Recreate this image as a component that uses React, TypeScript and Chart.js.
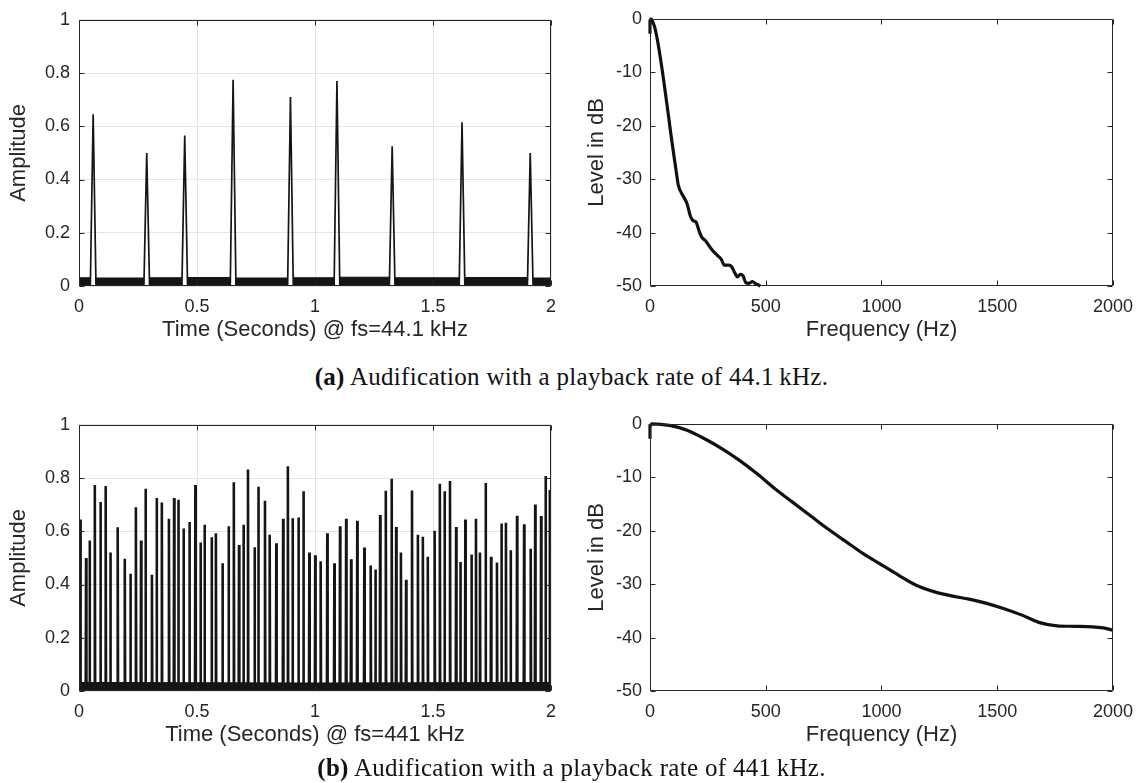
import React, { useEffect, useRef } from 'react';
import { Chart, registerables } from 'chart.js';

Chart.register(...registerables);

// ---------- data ----------
const timeTicks = [0, 0.5, 1, 1.5, 2];
const ampTicks = [0, 0.2, 0.4, 0.6, 0.8, 1];
const freqTicks = [0, 500, 1000, 1500, 2000];
const levelTicks = [-50, -40, -30, -20, -10, 0];

// (a) 44.1 kHz: pulse times (s) and heights
const peakTimesA = [0.06, 0.287, 0.448, 0.653, 0.896, 1.093, 1.327, 1.623, 1.912];
const peakHeightsA = [0.645, 0.5, 0.565, 0.775, 0.71, 0.77, 0.525, 0.615, 0.5];
// noise floor level in each gap between pulses (10 gaps)
const noiseLevelsA = [0.031, 0.03, 0.031, 0.032, 0.03, 0.031, 0.033, 0.031, 0.032, 0.03];

// (b) 441 kHz: pulse times (s) and heights
const peakTimesB = [
  0.006, 0.03, 0.045, 0.067, 0.091, 0.113, 0.133, 0.164, 0.194, 0.218,
  0.241, 0.263, 0.282, 0.309, 0.329, 0.351, 0.381, 0.403, 0.421, 0.443,
  0.468, 0.493, 0.515, 0.532, 0.562, 0.58, 0.608, 0.634, 0.656, 0.678,
  0.697, 0.716, 0.744, 0.76, 0.788, 0.808, 0.836, 0.865, 0.885, 0.905,
  0.93, 0.951, 0.976, 1.001, 1.024, 1.052, 1.082, 1.106, 1.132, 1.153,
  1.179, 1.209, 1.236, 1.256, 1.276, 1.3, 1.325, 1.344, 1.364, 1.386,
  1.411, 1.436, 1.457, 1.478, 1.507, 1.529, 1.549, 1.572, 1.598, 1.616,
  1.637, 1.663, 1.682, 1.699, 1.723, 1.746, 1.771, 1.79, 1.809, 1.829,
  1.856, 1.886, 1.914, 1.933, 1.958, 1.977, 1.995,
];
const peakHeightsB = [
  0.644, 0.5, 0.565, 0.774, 0.71, 0.77, 0.52, 0.615, 0.497, 0.44,
  0.69, 0.565, 0.76, 0.437, 0.725, 0.708, 0.647, 0.725, 0.718, 0.61,
  0.635, 0.774, 0.558, 0.625, 0.578, 0.593, 0.48, 0.619, 0.784, 0.548,
  0.625, 0.832, 0.54, 0.767, 0.715, 0.587, 0.555, 0.647, 0.844, 0.649,
  0.652, 0.75, 0.52, 0.51, 0.487, 0.593, 0.48, 0.619, 0.647, 0.495,
  0.64, 0.539, 0.471, 0.456, 0.661, 0.752, 0.797, 0.616, 0.52, 0.418,
  0.753, 0.587, 0.579, 0.504, 0.602, 0.779, 0.75, 0.789, 0.616, 0.485,
  0.644, 0.513, 0.647, 0.52, 0.781, 0.504, 0.483, 0.629, 0.632, 0.529,
  0.658, 0.626, 0.534, 0.701, 0.657, 0.808, 0.755,
];
const noiseTimesB = [0, 0.5, 1, 1.5, 2];
const noiseLevelsB = [0.032, 0.031, 0.03, 0.031, 0.032];

// spectra
const freqA = [0, 0, 4, 12, 20, 30, 40, 50, 60, 70, 80, 90, 100, 110, 118, 122, 145, 160, 175, 187, 198, 213, 224, 239, 254, 271, 292, 308, 321, 340, 353, 367, 378, 390, 402, 414, 428, 442, 458, 477];
const levelA = [-2.8, -0.5, 0, -0.6, -1.5, -3.5, -6, -8.8, -11.8, -15, -18.2, -21.5, -24.6, -27.6, -30, -31.1, -33.3, -34.6, -37, -37.8, -38, -39.8, -40.9, -41.5, -42.4, -43.4, -44.3, -45, -46.1, -46.1, -46.4, -47.6, -48.3, -47.8, -48.1, -49.4, -49.5, -49.2, -49.6, -50];

const freqB = [0, 0, 8, 84, 160, 236, 312, 388, 464, 541, 617, 693, 769, 845, 921, 997, 1073, 1150, 1226, 1302, 1378, 1454, 1530, 1607, 1683, 1759, 1835, 1911, 1957, 2000];
const levelB = [-2.8, -0.4, 0, -0.3, -1.2, -2.8, -4.7, -6.9, -9.4, -12.2, -14.7, -17.2, -19.7, -22, -24.3, -26.3, -28.3, -30.2, -31.4, -32.2, -32.8, -33.6, -34.6, -35.8, -37.2, -37.8, -37.9, -38, -38.2, -38.6];

// ---------- helpers ----------
const INK = '#151515';
const PEAK_HALF_A = 0.012;
const PEAK_HALF_B = 0.0015;

function pulseLine(times: number[], heights: number[], half: number) {
  const pts: { x: number; y: number }[] = [{ x: 0, y: 0 }];
  times.forEach((t, i) => {
    pts.push({ x: t - half, y: 0 }, { x: t, y: heights[i] }, { x: t + half, y: 0 });
  });
  pts.push({ x: 2, y: 0 });
  return pts;
}

function noiseSegments(times: number[], levels: number[], half: number) {
  const pts: { x: number; y: number | null }[] = [];
  const bounds = [0, ...times, 2];
  for (let i = 0; i < bounds.length - 1; i++) {
    const a = i === 0 ? 0 : bounds[i] + half;
    const b = i === bounds.length - 2 ? 2 : bounds[i + 1] - half;
    pts.push({ x: a, y: levels[i] }, { x: b, y: levels[i] }, { x: b, y: null });
  }
  return pts;
}

const framePlugin = {
  id: 'frameTicks',
  afterDatasetsDraw(chart: any) {
    const { ctx, chartArea: a, scales } = chart;
    const len = 5;
    ctx.save();
    ctx.strokeStyle = '#262626';
    ctx.lineWidth = 1;
    ctx.beginPath();
    const l = Math.round(a.left) + 0.5, r = Math.round(a.right) - 0.5;
    const t = Math.round(a.top) + 0.5, b = Math.round(a.bottom) - 0.5;
    scales.x.ticks.forEach((tk: any) => {
      const px = Math.round(scales.x.getPixelForValue(tk.value)) + 0.5;
      ctx.moveTo(px, b); ctx.lineTo(px, b - len);
      ctx.moveTo(px, t); ctx.lineTo(px, t + len);
    });
    scales.y.ticks.forEach((tk: any) => {
      const py = Math.round(scales.y.getPixelForValue(tk.value)) + 0.5;
      ctx.moveTo(l, py); ctx.lineTo(l + len, py);
      ctx.moveTo(r, py); ctx.lineTo(r - len, py);
    });
    ctx.rect(l, t, r - l, b - t);
    ctx.stroke();
    ctx.restore();
  },
};

const SANS = "'Liberation Sans', Arial, Helvetica, sans-serif";
const TICK_FONT = { family: SANS, size: 18 };
const TITLE_FONT = { family: SANS, size: 22 };

interface AxisSpec {
  xTicks: number[]; yTicks: number[];
  xTitle: string; yTitle: string;
  grid: boolean; yWidth: number; xHeight: number;
  padRight: number; yTitlePad: number; yTickPad: number;
}

function makeOptions(s: AxisSpec): any {
  const gridOpts = s.grid
    ? { display: true, color: '#e4e4e4', lineWidth: 1, drawTicks: false }
    : { display: false, drawTicks: false };
  return {
    responsive: false,
    animation: false,
    events: [],
    layout: { padding: { top: 18, right: s.padRight, left: 0, bottom: 0 } },
    plugins: { legend: { display: false }, tooltip: { enabled: false } },
    scales: {
      x: {
        type: 'linear',
        min: s.xTicks[0], max: s.xTicks[s.xTicks.length - 1],
        afterBuildTicks: (sc: any) => { sc.ticks = s.xTicks.map((v) => ({ value: v })); },
        afterFit: (sc: any) => { sc.height = s.xHeight; },
        grid: gridOpts,
        border: { display: false },
        ticks: { font: TICK_FONT, color: '#262626', padding: 10, maxRotation: 0, autoSkip: false, callback: (v: any) => String(v) },
        title: { display: true, text: s.xTitle, font: TITLE_FONT, color: '#262626', padding: { top: 0, bottom: 7 } },
      },
      y: {
        type: 'linear',
        min: s.yTicks[0], max: s.yTicks[s.yTicks.length - 1],
        afterBuildTicks: (sc: any) => { sc.ticks = s.yTicks.map((v) => ({ value: v })); },
        afterFit: (sc: any) => { sc.width = s.yWidth; },
        grid: gridOpts,
        border: { display: false },
        ticks: { font: TICK_FONT, color: '#262626', padding: s.yTickPad, autoSkip: false, callback: (v: any) => String(v) },
        title: { display: true, text: s.yTitle, font: TITLE_FONT, color: '#262626', padding: { top: s.yTitlePad, bottom: 0 } },
      },
    },
  };
}

function ChartBox({ left, top, width, height, build }: { left: number; top: number; width: number; height: number; build: () => any }) {
  const ref = useRef<HTMLCanvasElement>(null);
  useEffect(() => {
    const chart = new Chart(ref.current as HTMLCanvasElement, build());
    return () => chart.destroy();
  }, []);
  return (
    <div style={{ position: 'absolute', left, top, width, height }}>
      <canvas ref={ref} width={width} height={height} style={{ width, height, display: 'block' }} />
    </div>
  );
}

// geometry of the panels (plot areas: left 79..551, right 650..1121; rows 18..286 and 423..691)
const LEFT_W = 575;
const RIGHT_X = 575;
const RIGHT_W = 568;
const BOX_H = 350;
const ROW_B = 405;

function timeConfig(times: number[], heights: number[], half: number, noise: any, xTitle: string, width: number) {
  return {
    type: 'line',
    data: {
      datasets: [
        {
          data: noise,
          borderColor: INK, backgroundColor: INK, borderWidth: 1,
          fill: 'origin', pointRadius: 0, spanGaps: false, tension: 0,
        },
        {
          data: pulseLine(times, heights, half),
          borderColor: INK, borderWidth: width, fill: false, pointRadius: 0, tension: 0,
        },
      ],
    },
    options: makeOptions({
      xTicks: timeTicks, yTicks: ampTicks, xTitle, yTitle: 'Amplitude',
      grid: true, yWidth: 79, xHeight: BOX_H - 286, padRight: LEFT_W - 551, yTitlePad: 6, yTickPad: 9,
    }),
    plugins: [framePlugin],
  };
}

function specConfig(freq: number[], level: number[]) {
  return {
    type: 'line',
    data: {
      datasets: [
        {
          data: freq.map((f, i) => ({ x: f, y: level[i] })),
          borderColor: '#111111', borderWidth: 3.2, fill: false, pointRadius: 0,
          tension: 0.35, cubicInterpolationMode: 'monotone', clip: 3,
        },
      ],
    },
    options: makeOptions({
      xTicks: freqTicks, yTicks: levelTicks, xTitle: 'Frequency (Hz)', yTitle: 'Level in dB',
      grid: false, yWidth: 650 - RIGHT_X, xHeight: BOX_H - 286, padRight: RIGHT_X + RIGHT_W - 1121, yTitlePad: 9, yTickPad: 8,
    }),
    plugins: [framePlugin],
  };
}

const captionStyle: React.CSSProperties = {
  position: 'absolute', left: 0, width: 1143, textAlign: 'center',
  fontFamily: "'Liberation Serif', 'DejaVu Serif', serif", fontSize: 25, color: '#111',
  lineHeight: '30px', letterSpacing: '0.3px', whiteSpace: 'nowrap',
};

export default function App() {
  return (
    <div style={{ position: 'absolute', left: 0, top: 0, width: 1143, height: 783, background: '#fff', overflow: 'hidden' }}>
      <ChartBox left={0} top={0} width={LEFT_W} height={BOX_H}
        build={() => timeConfig(peakTimesA, peakHeightsA, PEAK_HALF_A,
          noiseSegments(peakTimesA, noiseLevelsA, PEAK_HALF_A), 'Time (Seconds) @ fs=44.1 kHz', 1.7)} />
      <ChartBox left={RIGHT_X} top={0} width={RIGHT_W} height={BOX_H} build={() => specConfig(freqA, levelA)} />
      <div style={{ ...captionStyle, top: 362 }}><b>(a)</b> Audification with a playback rate of 44.1{'\u2009'}kHz.</div>
      <ChartBox left={0} top={ROW_B} width={LEFT_W} height={BOX_H}
        build={() => timeConfig(peakTimesB, peakHeightsB, PEAK_HALF_B,
          noiseTimesB.map((t, i) => ({ x: t, y: noiseLevelsB[i] })), 'Time (Seconds) @ fs=441 kHz', 2.6)} />
      <ChartBox left={RIGHT_X} top={ROW_B} width={RIGHT_W} height={BOX_H} build={() => specConfig(freqB, levelB)} />
      <div style={{ ...captionStyle, top: 753 }}><b>(b)</b> Audification with a playback rate of 441{'\u2009'}kHz.</div>
    </div>
  );
}
